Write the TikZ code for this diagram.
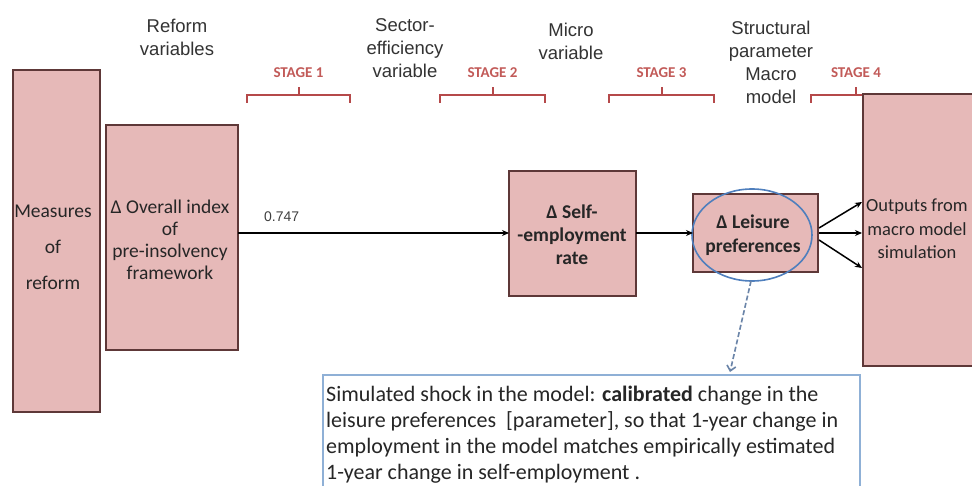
\documentclass[tikz,border=0pt]{standalone}
\usepackage{fontspec}
\setmainfont{Carlito}
\newfontfamily\headfont{Liberation Sans}
\usetikzlibrary{arrows.meta}
\definecolor{boxfill}{HTML}{E6B9B8}
\definecolor{boxline}{HTML}{5E3838}
\definecolor{stagered}{HTML}{B5494A}
\definecolor{stagetext}{HTML}{C25A58}
\definecolor{ellblue}{HTML}{4F7FBD}
\definecolor{noteline}{HTML}{8FB0D6}
\definecolor{dashblue}{HTML}{6A84A8}
\begin{document}
\begin{tikzpicture}[x=1pt,y=-1pt,
  pinkbox/.style={draw=boxline,fill=boxfill,line width=1.6pt},
  boxtext/.style={align=center,font=\fontsize{19.5}{22}\selectfont,inner sep=0pt,text=black!85},
  heading/.style={align=center,font=\headfont\fontsize{18.5}{23}\selectfont,inner sep=0pt,text=black!80},
  stagelabel/.style={font=\bfseries\fontsize{15}{16}\selectfont,text=stagetext,inner sep=0pt},
  brace/.style={draw=stagered,line width=2pt},
  flow/.style={draw=black,line width=1.5pt,-{Stealth[length=7pt,width=6pt]}}]
\useasboundingbox (0,0) rectangle (972,486);
\fill[white] (0,0) rectangle (972,486);

% column headings
\node[heading] (hreform) at (177,37) {Reform\\variables};
\node[heading] (hsector) at (405,48) {Sector-\\efficiency\\variable};
\node[heading] (hmicro) at (571,41) {Micro\\variable};
\node[heading] (hstruct) at (771,62) {Structural\\parameter\\Macro\\model};

% stage brackets
\foreach \name/\xa/\xb/\lbl in {s1/247/350/1, s2/440/545/2, s3/609/714/3, s4/811/901/4}{
  \pgfmathsetmacro{\xm}{(\xa+\xb)/2}
  \draw[brace] (\xa,103) -- (\xa,95) -- (\xb,95) -- (\xb,103);
  \draw[brace] (\xm,95) -- (\xm,87);
  \node[stagelabel] (\name) at (\xm,73) {STAGE \lbl};
}

% boxes
\node[pinkbox,minimum width=87pt,minimum height=342pt,inner sep=0pt] (measures) at (56.5,241) {};
\node[boxtext,text width=86pt] (measurestxt) at (53,247) {Measures\\[14pt]of\\[14pt]reform};

\node[pinkbox,minimum width=132pt,minimum height=225pt,inner sep=0pt] (index) at (172,237.5) {};
\node[boxtext] (indextxt) at (170,240) {Δ Overall index\\of\\pre-insolvency\\framework};

\node[pinkbox,minimum width=127pt,minimum height=125pt,inner sep=0pt] (self) at (572.5,233.5) {};
\node[boxtext,font=\bfseries\fontsize{19.5}{23}\selectfont] (selftxt) at (572,235) {Δ Self-\\-employment\\rate};

\node[pinkbox,minimum width=125pt,minimum height=78pt,inner sep=0pt] (leisure) at (755.5,233) {};
\draw[ellblue,line width=1.6pt] (752,235) ellipse [x radius=60, y radius=46];
\node[boxtext,font=\bfseries\fontsize{19.5}{24}\selectfont] (leisuretxt) at (753,235) {Δ Leisure\\preferences};
\coordinate (ellbottom) at (751,281);

\node[pinkbox,minimum width=125pt,minimum height=272pt,inner sep=0pt,anchor=north west] (outputs) at (862,93) {};
\node[boxtext,font=\fontsize{18.5}{23.5}\selectfont] (outputstxt) at (917,229) {Outputs from\\macro model\\simulation};

% flow arrows
\coordinate (idxout) at (238,233);
\coordinate (selfin) at (509,233);
\draw[flow] (idxout) -- (selfin);
\node[font=\headfont\fontsize{14}{16}\selectfont,text=black!75,anchor=west,inner sep=0pt] (coef) at (264,217) {0.747};
\coordinate (selfout) at (636,233);
\coordinate (leisin) at (693,233);
\draw[flow] (selfout) -- (leisin);
\coordinate (leisout) at (819,228);
\draw[flow] (leisout) -- (862,202);
\draw[flow] (819,233) -- (862,233);
\draw[flow] (819,240) -- (862,268);

% note box
\draw[noteline,line width=1.8pt,fill=white] (323,375) rectangle (860,495);
\node[anchor=north west,align=left,inner sep=0pt,font=\fontsize{22}{26}\selectfont,text=black!85] (note) at (326,386)
 {Simulated shock in the model: \textbf{calibrated} change in the\\
  leisure preferences\ \ [parameter], so that 1-year change in\\
  employment in the model matches empirically estimated\\
  1-year change in self-employment .};
\coordinate (notetop) at (730,372);
\draw[dashblue,line width=1.6pt,dash pattern=on 5pt off 2.5pt,-{Straight Barb[length=5pt,width=9pt]}] (ellbottom) -- (notetop);
\end{tikzpicture}
\end{document}
